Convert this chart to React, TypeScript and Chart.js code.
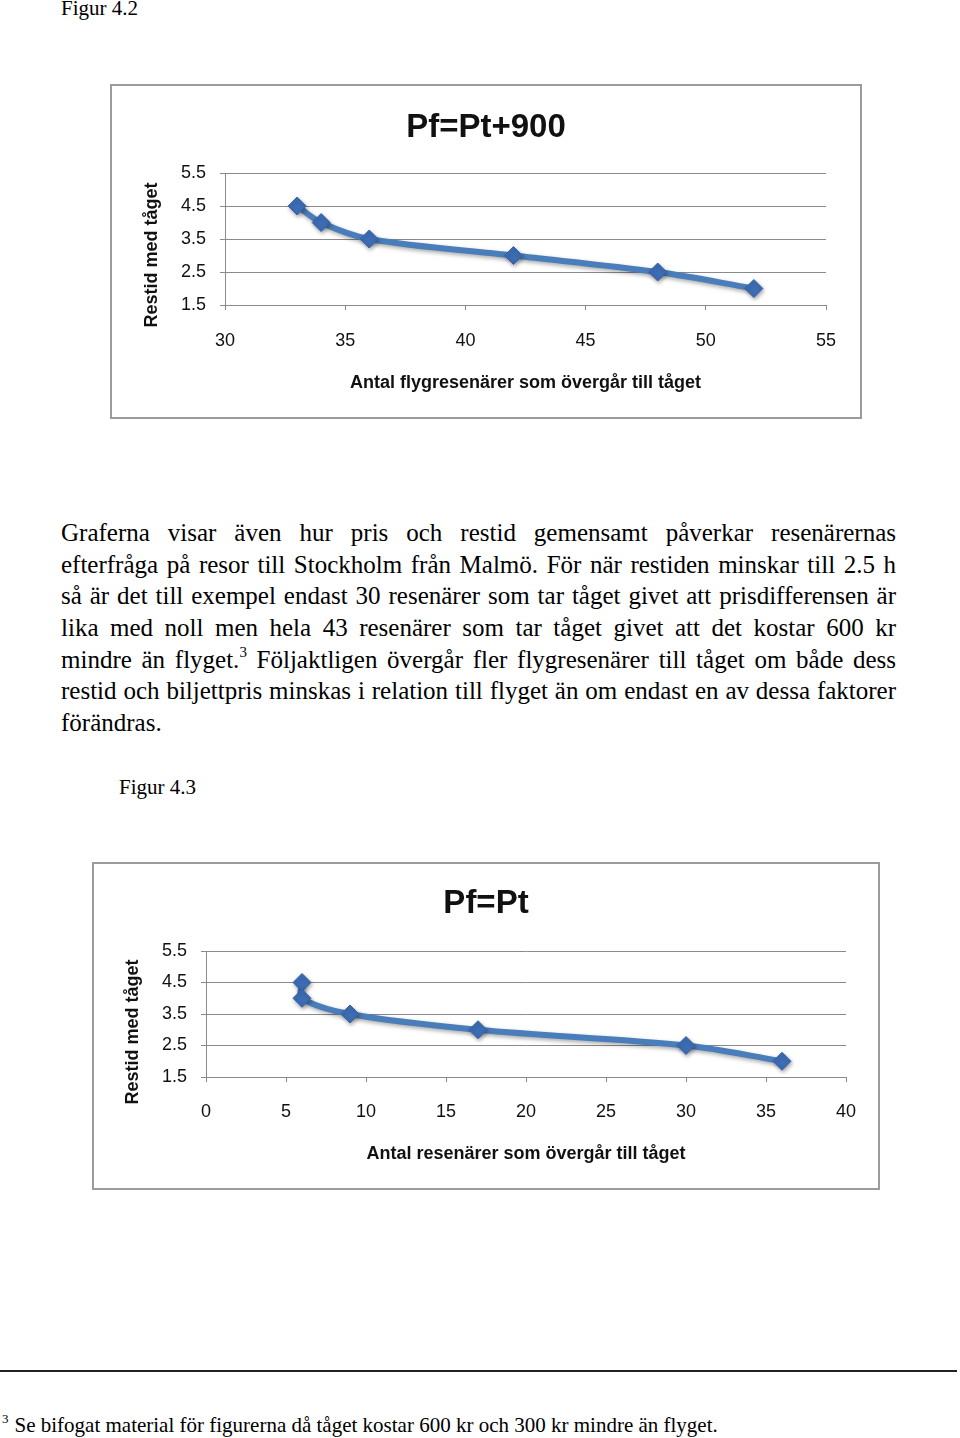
import React, { useEffect, useRef } from "react";
import { Chart, registerables } from "chart.js";

Chart.register(...registerables);

// ---- Data ----
const fig42Passengers = [33, 34, 36, 42, 48, 52];
const fig42Hours = [4.5, 4.0, 3.5, 3.0, 2.5, 2.0];
const fig42XRange = [30, 55];

const fig43Passengers = [6, 6, 9, 17, 30, 36];
const fig43Hours = [4.5, 4.0, 3.5, 3.0, 2.5, 2.0];
const fig43XRange = [0, 40];

const yTickValues = [1.5, 2.5, 3.5, 4.5, 5.5];
const xStep = 5;

const fig42Title = "Pf=Pt+900";
const fig43Title = "Pf=Pt";
const fig42XTitle = "Antal flygresenärer som övergår till tåget";
const fig43XTitle = "Antal resenärer som övergår till tåget";
const yTitleText = "Restid med tåget";

const paragraphLines = [
  "Graferna visar även hur pris och restid gemensamt påverkar resenärernas",
  "efterfråga på resor till Stockholm från Malmö. För när restiden minskar till 2.5 h",
  "så är det till exempel endast 30 resenärer som tar tåget givet att prisdifferensen är",
  "lika med noll men hela 43 resenärer som tar tåget givet att det kostar 600 kr",
  "__SUP__",
  "restid och biljettpris minskas i relation till flyget än om endast en av dessa faktorer",
];
const line5Before = "mindre än flyget.";
const line5After = " Följaktligen övergår fler flygresenärer till tåget om både dess";
const lastLine = "förändras.";
const footnoteText = "Se bifogat material för figurerna då tåget kostar 600 kr och 300 kr mindre än flyget.";

const FONT = '"Liberation Sans", Arial, Helvetica, sans-serif';
const SERIF = '"Liberation Serif", "Times New Roman", Times, serif';
const LINE_BLUE = "#4a7ebb";
const MARK_BLUE = "#3d6db5";
const GRID = "#8a8a8a";

// Draws the chart heading (centred on the whole canvas) and the rotated y-axis title.
const labelsPlugin = {
  id: "pageLabels",
  afterDraw(chart: any, _args: any, opts: any) {
    const ctx = chart.ctx;
    ctx.save();
    ctx.fillStyle = "#111";
    ctx.textAlign = "center";
    ctx.textBaseline = "middle";
    ctx.font = `bold 33px ${FONT}`;
    ctx.fillText(opts.title, chart.width / 2, opts.titleY);
    ctx.translate(opts.yx, opts.yy);
    ctx.rotate(-Math.PI / 2);
    ctx.font = `bold 18px ${FONT}`;
    ctx.fillText(opts.yText, 0, 0);
    ctx.restore();
  },
};

const shadowPlugin = {
  id: "lineShadow",
  beforeDatasetsDraw(chart: any) {
    const ctx = chart.ctx;
    ctx.save();
    ctx.shadowColor = "rgba(0,0,0,0.35)";
    ctx.shadowBlur = 4;
    ctx.shadowOffsetX = 1;
    ctx.shadowOffsetY = 2;
  },
  afterDatasetsDraw(chart: any) {
    chart.ctx.restore();
  },
};

type ChartProps = {
  width: number;
  height: number;
  title: string;
  titleY: number;
  xTitle: string;
  xs: number[];
  ys: number[];
  xRange: number[];
  yAxisWidth: number;
  xAxisHeight: number;
  rightPad: number;
  xTickPad: number;
  yTitlePos: { x: number; y: number };
};

function LineChart(p: ChartProps) {
  const ref = useRef<HTMLCanvasElement | null>(null);
  useEffect(() => {
    if (!ref.current) return;
    const points = p.xs.map((x, i) => ({ x, y: p.ys[i] }));
    const chart = new Chart(ref.current, {
      type: "line",
      data: {
        datasets: [
          {
            data: points,
            borderColor: LINE_BLUE,
            borderWidth: 6,
            tension: 0.35,
            pointStyle: "rectRot",
            pointRadius: 9,
            pointBackgroundColor: MARK_BLUE,
            pointBorderColor: "#3763a6",
            pointBorderWidth: 1,
            fill: false,
          },
        ],
      },
      options: {
        responsive: false,
        animation: false,
        layout: { padding: { left: 0, right: p.rightPad, top: 87, bottom: 0 } },
        plugins: {
          legend: { display: false },
          tooltip: { enabled: false },
          title: { display: false },
          pageLabels: {
            title: p.title,
            titleY: p.titleY,
            yText: yTitleText,
            yx: p.yTitlePos.x,
            yy: p.yTitlePos.y,
          },
        } as any,
        scales: {
          x: {
            type: "linear",
            min: p.xRange[0],
            max: p.xRange[1],
            ticks: {
              stepSize: xStep,
              color: "#111",
              font: { family: FONT, size: 18 },
              padding: p.xTickPad,
              maxRotation: 0,
            },
            grid: { drawOnChartArea: false, drawTicks: true, tickLength: 5, color: GRID },
            border: { display: true, color: GRID, width: 1 },
            title: {
              display: true,
              text: p.xTitle,
              color: "#111",
              font: { family: FONT, size: 18, weight: "bold" },
              padding: { top: 0, bottom: 23 },
            },
            afterFit: (s: any) => {
              s.height = p.xAxisHeight;
            },
          },
          y: {
            type: "linear",
            min: yTickValues[0],
            max: yTickValues[yTickValues.length - 1],
            afterBuildTicks: (s: any) => {
              s.ticks = yTickValues.map((v) => ({ value: v }));
            },
            ticks: {
              color: "#111",
              font: { family: FONT, size: 18 },
              padding: 14,
              callback: (v: any) => Number(v).toFixed(1),
            },
            grid: { drawTicks: true, tickLength: 5, color: GRID },
            border: { display: true, color: GRID, width: 1 },
            afterFit: (s: any) => {
              s.width = p.yAxisWidth;
            },
          },
        },
      },
      plugins: [labelsPlugin, shadowPlugin],
    } as any);
    return () => chart.destroy();
  }, []);
  return (
    <canvas
      ref={ref}
      width={p.width}
      height={p.height}
      style={{ display: "block", width: p.width, height: p.height }}
    />
  );
}

const abs = (left: number, top: number, extra: React.CSSProperties = {}): React.CSSProperties => ({
  position: "absolute",
  left,
  top,
  ...extra,
});

export default function App() {
  const justified: React.CSSProperties = {
    textAlign: "justify",
    textAlignLast: "justify" as any,
    whiteSpace: "nowrap",
    height: 31.7,
    lineHeight: "31.7px",
  };
  return (
    <div
      style={{
        position: "absolute",
        left: 0,
        top: 0,
        width: 960,
        height: 1438,
        overflow: "hidden",
        background: "#fff",
        color: "#000",
        fontFamily: SERIF,
      }}
    >
      <div style={abs(61, -4, { fontSize: 21, lineHeight: "24px" })}>Figur 4.2</div>

      <div
        style={abs(110, 84, {
          width: 752,
          height: 335,
          boxSizing: "border-box",
          border: "2px solid #9c9c9c",
        })}
      >
        <LineChart
          width={748}
          height={331}
          title={fig42Title}
          titleY={42}
          xTitle={fig42XTitle}
          xs={fig42Passengers}
          ys={fig42Hours}
          xRange={fig42XRange}
          yAxisWidth={113}
          xAxisHeight={112}
          rightPad={34}
          xTickPad={20}
          yTitlePos={{ x: 40, y: 169 }}
        />
      </div>

      <div style={abs(61, 517, { width: 835, fontSize: 25 })}>
        {paragraphLines.map((l, i) =>
          l === "__SUP__" ? (
            <div key={i} style={justified}>
              {line5Before}
              <span style={{ position: "relative", top: -11, fontSize: 15 }}>3</span>
              {line5After}
            </div>
          ) : (
            <div key={i} style={justified}>
              {l}
            </div>
          )
        )}
        <div style={{ height: 31.7, lineHeight: "31.7px", whiteSpace: "nowrap" }}>{lastLine}</div>
      </div>

      <div style={abs(119, 775, { fontSize: 21, lineHeight: "24px" })}>Figur 4.3</div>

      <div
        style={abs(92, 862, {
          width: 788,
          height: 328,
          boxSizing: "border-box",
          border: "2px solid #9c9c9c",
        })}
      >
        <LineChart
          width={784}
          height={324}
          title={fig43Title}
          titleY={40}
          xTitle={fig43XTitle}
          xs={fig43Passengers}
          ys={fig43Hours}
          xRange={fig43XRange}
          yAxisWidth={112}
          xAxisHeight={111}
          rightPad={32}
          xTickPad={19}
          yTitlePos={{ x: 39, y: 168 }}
        />
      </div>

      <div style={abs(0, 1370, { width: 957, height: 2, background: "#222" })} />

      <div style={abs(0, 1413, { fontSize: 21, lineHeight: "24px", whiteSpace: "nowrap" })}>
        <span style={{ position: "relative", top: -9, fontSize: 13, marginLeft: 2, marginRight: 6 }}>3</span>
        {footnoteText}
      </div>
    </div>
  );
}
